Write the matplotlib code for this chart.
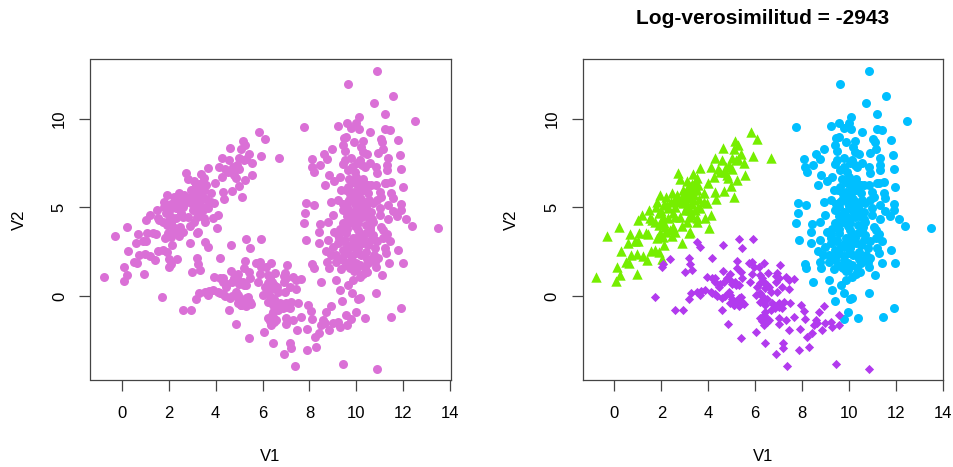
import matplotlib
matplotlib.use("Agg")
import matplotlib.pyplot as plt

plt.rcParams['font.family'] = ['Liberation Sans', 'DejaVu Sans']

# cluster 1 (triangles)
g_x = [-0.78,0.07,0.23,0.95,0.09,0.50,0.64,1.39,0.71,0.98,1.21,0.27,1.54,1.74,1.92,2.01,2.90,0.58,0.88,1.02,2.13,-0.30,0.20,0.67,1.05,1.34,1.45,1.83,2.09,2.45,3.20,4.05,1.02,1.18,1.48,1.78,1.93,2.20,2.45,2.73,2.80,3.09,3.37,3.66,3.97,4.27,4.14,4.58,4.61,5.15,5.26,5.83,6.09,5.92,6.69,5.08,5.01,5.29,5.53,5.56,5.23,4.98,4.68,4.30,4.35,5.12,4.86,4.79,4.51,4.25,5.01,4.75,3.51,3.58,3.80,3.94,3.66,4.11,3.87,3.54,3.23,3.20,2.89,2.59,2.30,2.16,2.49,2.02,1.74,1.52,1.88,2.09,2.66,2.94,3.16,3.44,3.23,2.94,3.09,3.37,3.58,3.80,2.23,1.81,3.23,2.38,1.95,3.02,2.80,3.16,3.30,3.02,3.44,3.09,
       2.6,2.75,2.9,3.05,3.2,3.1,2.5,2.3,2.1,1.9,3.3,3.4,3.5,3.6,3.3,3.5,2.6,2.4,2.1,2.0,1.6,1.9,2.2,2.6,4.7,4.4,4.9,5.2,5.4,3.15,3.3]
g_y = [1.09,0.87,1.21,1.26,1.66,1.94,1.86,2.02,2.32,2.37,2.26,2.56,2.54,2.60,2.50,2.11,3.01,2.99,3.13,3.11,2.88,3.39,3.88,3.50,3.54,3.58,3.50,3.30,3.35,3.39,3.54,3.84,4.29,4.58,4.86,5.05,5.69,5.57,5.80,6.97,6.59,6.52,6.87,7.21,6.40,7.82,7.31,7.68,8.36,8.78,8.51,9.27,8.89,7.93,7.82,8.29,7.78,7.72,7.50,6.82,6.53,6.21,5.93,5.88,5.46,5.57,6.65,6.84,7.02,6.74,7.16,7.31,6.65,6.27,5.80,5.24,4.95,4.58,4.39,4.16,4.86,4.48,3.97,4.48,4.95,3.92,3.92,4.29,4.20,4.39,4.67,4.48,5.71,5.99,6.27,6.46,5.52,5.24,5.71,5.42,5.05,5.33,5.14,5.33,3.63,3.73,3.54,4.86,4.48,5.89,5.99,5.42,4.86,4.20,
       5.0,5.3,5.6,5.9,5.6,5.1,4.7,4.4,4.1,4.0,5.2,5.7,6.0,5.5,4.6,4.4,5.5,5.3,5.2,4.8,4.3,3.4,3.6,3.6,7.0,7.2,7.4,7.7,8.0,6.0,6.3]

# cluster 2 (diamonds)
p_x = [1.72,2.60,2.94,2.35,2.02,2.08,3.19,3.24,3.31,2.99,3.53,3.67,4.64,5.31,5.92,5.45,4.18,5.23,5.21,5.73,5.87,6.37,6.16,5.95,5.42,4.64,5.87,6.54,7.06,6.94,7.30,7.65,7.44,6.91,7.15,7.44,6.94,6.66,5.80,4.95,3.93,4.17,4.31,4.45,4.69,4.95,5.16,5.45,5.31,6.23,6.23,6.44,6.23,6.02,6.23,6.44,6.73,7.01,7.23,7.51,7.94,8.08,8.72,8.93,9.57,6.66,6.44,6.87,7.15,3.17,3.27,3.53,3.67,3.88,4.17,4.38,4.59,4.88,4.95,4.95,5.16,5.38,5.45,5.31,5.52,4.57,4.86,5.42,6.06,6.44,7.18,7.20,6.90,7.37,7.88,8.28,9.45,6.23,6.44,6.59,6.37,7.01,7.01,7.30,7.65,8.11,7.45,7.91,8.58,8.65,8.51,8.85,9.00,9.22,9.29,9.59,8.41,8.22,5.31,5.09,6.09,10.88,
       4.8,5.0,5.2,6.3,6.4,6.5,6.6,6.3,6.4,6.5,6.8,7.0,6.3,6.5,6.4,5.0,5.3,5.4,5.1,5.3,3.7,4.1,4.3,4.7,7.0,6.9,4.3,4.5]
p_y = [-0.04,-0.81,-0.77,2.09,1.66,1.81,2.13,1.79,1.45,1.36,3.07,2.75,2.86,3.22,3.20,2.71,2.13,1.98,1.60,1.85,1.94,1.85,1.62,1.66,1.37,1.43,1.24,1.28,1.75,1.28,1.09,0.94,0.90,0.81,0.53,0.38,0.21,0.24,0.81,1.22,1.05,1.00,0.81,0.53,0.81,0.90,0.81,1.00,0.62,1.19,0.72,0.43,0.15,0.06,-0.32,-0.51,-0.41,-0.41,-0.32,-0.38,-0.51,-0.83,-0.92,-0.56,-1.07,-0.79,-0.89,-0.70,-0.70,-0.19,0.15,0.24,0.06,0.34,0.15,0.02,-0.13,0.24,0.06,-0.38,-0.32,-0.04,-0.32,-0.56,-0.45,-0.77,-1.56,-2.35,-2.05,-2.67,-2.64,-2.94,-3.28,-3.94,-3.07,-2.90,-3.86,-1.26,-1.21,-1.36,-1.64,-1.26,-1.60,-1.36,-1.19,-1.30,-1.94,-1.86,-1.36,-1.54,-1.64,-1.92,-1.54,-1.45,-1.73,-1.64,-2.07,-2.30,-0.23,-0.51,0.53,-4.12,
       1.0,0.7,0.6,1.0,0.8,0.6,0.5,0.0,-0.1,-0.2,-0.5,-0.6,-1.4,-1.5,-1.1,-0.2,-0.2,-0.4,-0.5,-0.1,0.3,0.25,0.1,0.0,1.0,1.1,1.0,0.7]

# cluster 3 (circles)
c_x = [10.87,9.63,11.58,10.75,11.21,10.11,12.50,7.75,9.22,9.59,9.79,10.00,10.11,10.57,11.21,11.42,11.04,11.11,11.78,9.57,9.47,10.27,9.43,9.50,8.95,8.61,8.76,8.09,8.12,8.21,8.46,10.18,10.28,10.44,11.14,10.92,11.88,11.35,11.31,11.31,11.92,9.50,9.43,9.79,10.14,9.64,9.93,10.00,10.36,10.57,10.85,10.89,8.82,9.29,9.05,8.68,9.86,10.50,10.85,11.21,11.49,11.99,10.07,
       7.84,8.19,7.82,7.75,8.44,8.39,7.87,8.39,8.69,8.11,8.19,8.75,8.83,8.48,9.15,9.29,9.66,9.81,9.40,10.14,10.07,10.85,9.97,10.38,11.46,11.92,9.79,13.50,12.38,12.13,11.99,11.78,11.40,11.10,10.47,10.14,9.86,11.42,11.14,11.75,11.92,11.92,11.49,11.56,11.07,8.93,9.22,9.36,9.64,9.93,10.64,11.28,10.50,10.07,9.64,9.43,9.79,10.21,10.64,10.99,11.35,9.00,8.79,9.43,9.72,10.07,10.50,10.71,11.35,11.07,10.57,10.07,9.57,9.22,8.79,9.00,9.22,9.50,9.86,10.28,10.64,11.21,11.28,10.92,10.85,10.50,10.43,10.07,9.79,9.43,9.15,9.15,9.43,9.79,9.97,9.72,9.36,9.97,10.36,10.64,
       10.0,10.3,9.6,10.3,9.6,10.0,10.4,9.9,10.3,10.0,10.3,9.7,10.2,10.0,9.5,10.8,10.8,10.9,11.0,
       9.55,9.75,9.9,10.15,10.35,10.55,9.45,9.7,9.95,10.2,10.4,10.7,10.9,9.6,9.85,10.05,10.25,10.45,10.65,9.3,9.5,9.75,9.95,10.15,10.4,10.6,9.25,9.45,9.65,9.85,10.05,10.25,10.5,10.7,9.4,9.6,9.8,10.0,10.2,10.45,10.75,9.55,9.75,9.9,10.15,10.3,9.8,10.05,10.25,9.9,11.15,11.3,11.55,8.9,9.05,11.0]
c_y = [12.69,12.00,11.30,10.90,10.30,10.11,9.87,9.57,9.62,9.76,9.47,9.76,9.44,9.27,9.42,9.36,8.87,8.72,8.81,9.00,8.91,8.78,8.53,8.21,8.32,8.02,7.72,7.76,7.27,7.01,7.42,8.40,8.15,8.00,8.29,8.10,7.97,7.78,7.40,7.12,7.18,7.68,7.46,7.78,7.68,7.12,7.02,6.74,7.31,7.50,7.31,6.93,6.84,6.70,6.52,6.25,6.46,6.27,6.27,6.37,6.46,6.16,6.27,
       5.27,5.12,4.69,4.14,4.07,3.60,3.14,2.98,2.54,1.81,1.58,1.94,1.56,0.81,0.90,0.34,0.62,0.19,-0.30,-0.13,-0.17,0.19,-0.90,-1.26,-1.17,-0.66,-1.32,3.84,3.97,4.33,1.85,2.60,1.88,1.19,1.37,1.09,0.90,3.13,3.26,4.54,4.86,5.20,5.84,5.52,5.61,5.33,5.42,5.99,6.18,6.37,6.27,6.37,5.80,5.61,5.33,4.86,4.76,4.67,4.76,4.95,5.14,4.58,4.20,4.11,4.39,4.11,4.48,4.20,4.33,3.92,3.73,3.73,3.54,3.45,3.16,2.79,2.98,3.16,3.26,3.26,3.16,2.69,2.41,2.13,1.66,1.85,2.50,2.69,2.79,2.60,2.32,1.94,2.03,2.03,1.85,1.66,1.51,1.47,1.56,2.03,
       5.1,5.3,5.0,3.0,3.8,4.4,4.0,5.9,6.0,6.5,6.6,6.6,5.5,3.3,2.4,2.7,1.9,3.1,4.6,
       6.0,5.75,5.5,5.85,6.3,5.45,5.2,5.45,5.25,4.95,5.05,5.25,5.4,4.5,4.55,4.9,4.45,4.85,4.35,3.8,3.95,4.2,3.95,3.5,3.55,3.9,3.3,3.1,2.8,3.0,2.85,3.05,2.9,3.45,2.15,2.4,2.25,2.45,2.3,2.1,2.3,1.75,1.6,1.4,1.75,1.25,7.3,7.5,7.4,8.7,3.7,3.5,4.8,2.3,3.6,5.9]

x_ticks = [0, 2, 4, 6, 8, 10, 12, 14]
y_ticks = [0, 5, 10]
log_lik = -2943

W, H = 954, 467
fig = plt.figure(figsize=(W / 100, H / 100), dpi=100)
ax1 = fig.add_axes([90.5 / W, (H - 380) / H, 360 / W, 321 / H])
ax2 = fig.add_axes([583 / W, (H - 380) / H, 360 / W, 321 / H])

for ax in (ax1, ax2):
    ax.set_xlim(-1.344, 14.02)
    ax.set_ylim(-4.75, 13.39)
    ax.set_xticks(x_ticks)
    ax.set_yticks(y_ticks)
    ax.tick_params(length=8, width=0.9, color='#444444', labelsize=12, labelcolor='#000000')
    ax.tick_params(axis='x', pad=11)
    ax.tick_params(axis='y', pad=9)
    for lab in ax.get_yticklabels():
        lab.set_rotation(90)
        lab.set_va('center')
    for s in ax.spines.values():
        s.set_color('#444444')
        s.set_linewidth(0.9)
    ax.set_xlabel('V1', fontsize=12, labelpad=20, color='#000000')
    ax.set_ylabel('V2', fontsize=12, labelpad=18, color='#000000')

# all points in one colour
ax1.scatter(g_x + p_x + c_x, g_y + p_y + c_y, s=42, c='#DA70D6', marker='o', linewidths=0)

# coloured by cluster
ax2.scatter(c_x, c_y, s=42, c='#00BFFF', marker='o', linewidths=0)
ax2.scatter(g_x, g_y, s=56, c='#76EE00', marker='^', linewidths=0)
ax2.scatter(p_x, p_y, s=22, c='#B23AEE', marker='D', linewidths=0)
ax2.set_title('Log-verosimilitud = %d' % log_lik, fontsize=15, fontweight='bold', pad=25)

fig.savefig('out.png', dpi=100)
